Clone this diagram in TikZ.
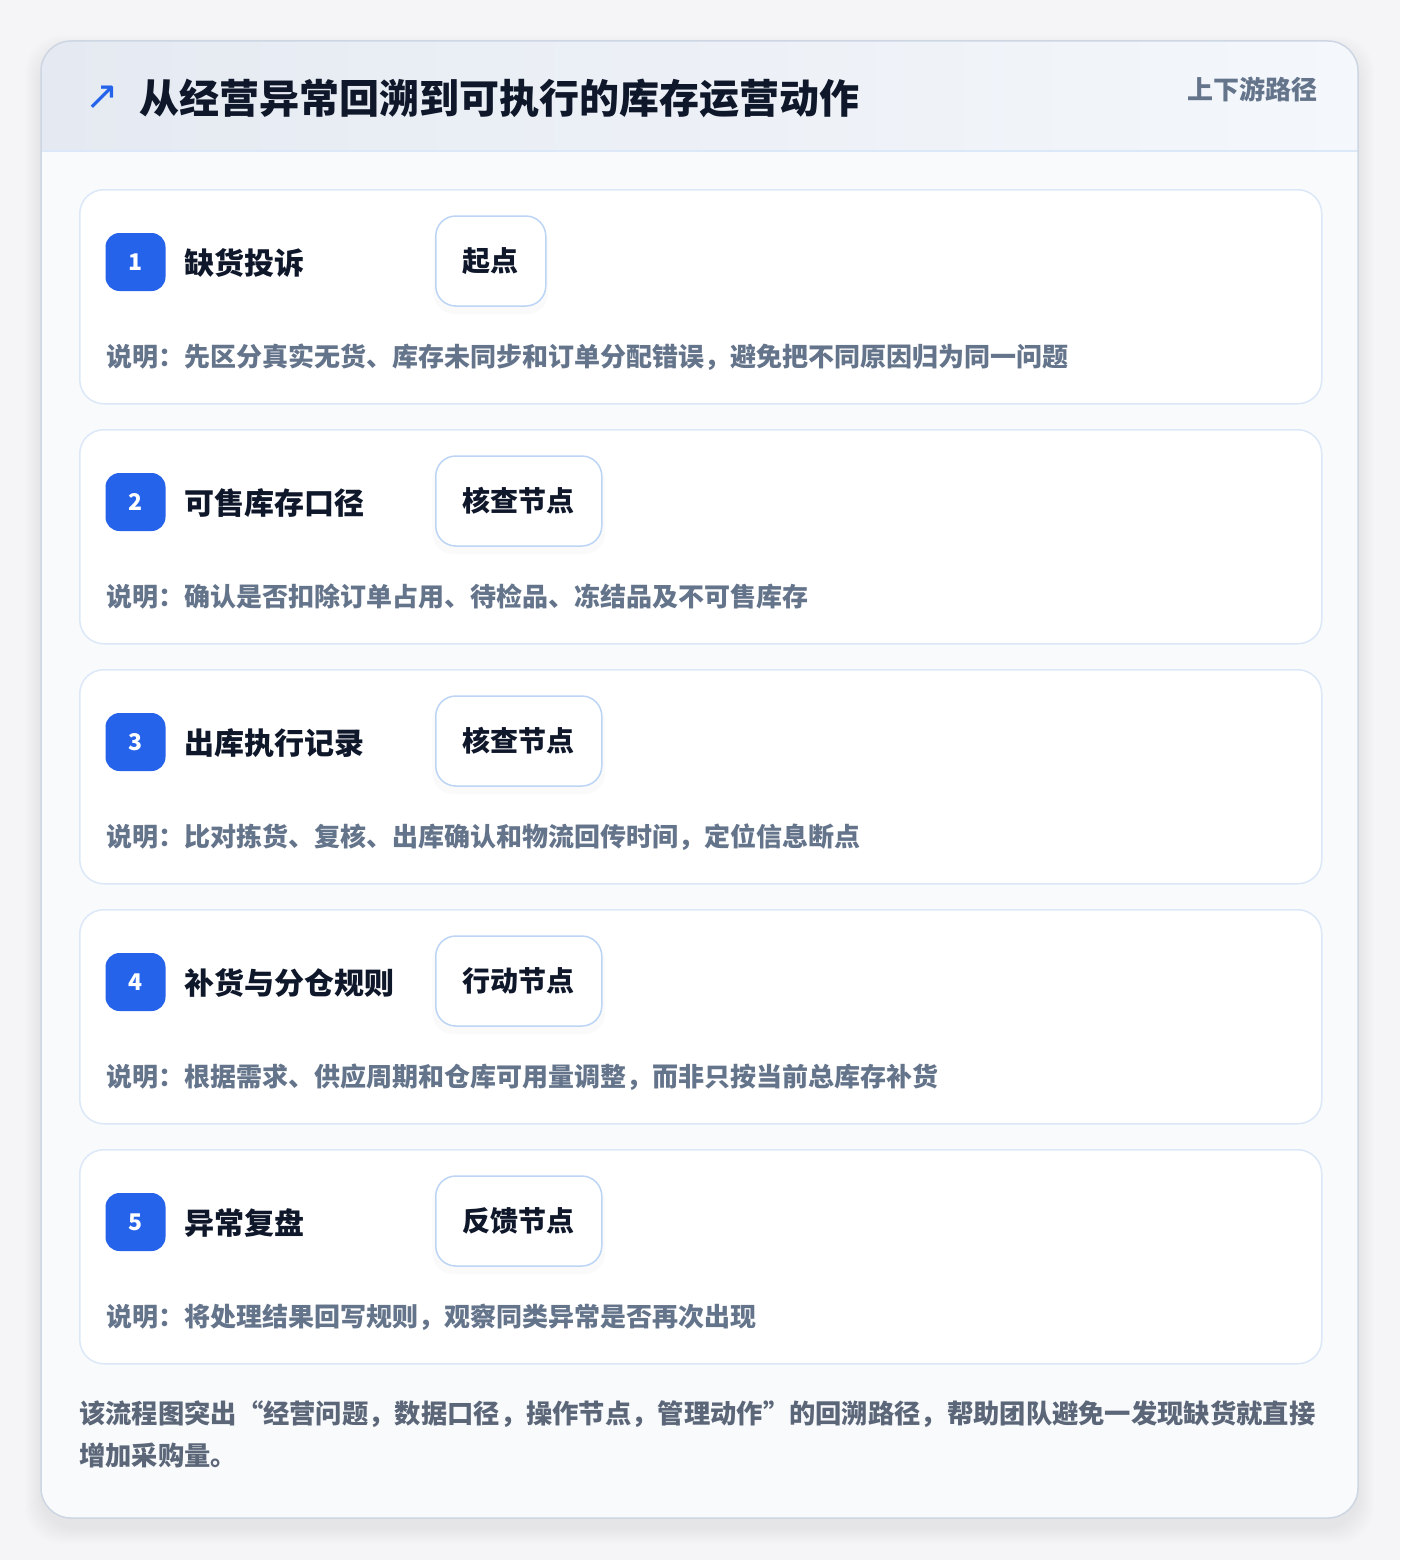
\documentclass[tikz,border=0pt]{standalone}
\usepackage{fontspec}
\setmainfont{Noto Sans CJK SC}
\newfontfamily\symfont{DejaVu Sans}
\usetikzlibrary{positioning,shadows}

\definecolor{pagebg}{HTML}{F5F5F7}
\definecolor{cardbg}{HTML}{F8FAFC}
\definecolor{cardline}{HTML}{CDD6E2}
\definecolor{headl}{HTML}{E5EAF2}
\definecolor{headr}{HTML}{F4F7FB}
\definecolor{stepline}{HTML}{DCE8F7}
\definecolor{tagline}{HTML}{BCD5F5}
\definecolor{accent}{HTML}{2563EB}
\definecolor{ink}{HTML}{0F172A}
\definecolor{muted}{HTML}{64748B}
\definecolor{foot}{HTML}{5B6678}

\begin{document}
\begin{tikzpicture}[x=1pt,y=-1pt,
  stepcard/.style={draw=stepline,line width=1.5pt,fill=white,rounded corners=24pt,
    minimum width=1242pt,minimum height=214pt,anchor=north west,inner sep=0pt},
  badge/.style={fill=accent,rounded corners=14pt,minimum width=60pt,minimum height=58pt,
    inner sep=0pt,text=white,font=\fontsize{23}{23}\selectfont\bfseries},
  steptitle/.style={anchor=west,inner sep=0pt,text=ink,font=\fontsize{30}{30}\selectfont\bfseries},
  tagbox/.style={draw=tagline,line width=1.5pt,fill=white,rounded corners=20pt,
    minimum height=90pt,inner xsep=27pt,inner ysep=0pt,text=ink,
    font=\fontsize{28}{28}\selectfont\bfseries,
    drop shadow={shadow xshift=0pt,shadow yshift=-6pt,opacity=0.035,shadow scale=1.04}},
  stepdesc/.style={anchor=west,inner sep=0pt,text=muted,font=\fontsize{26}{26}\selectfont\bfseries}]

\useasboundingbox[fill=pagebg] (0,0) rectangle (1400,1560);

% soft shadow round the card
\foreach \s in {1,...,16}
  \fill[black,opacity=0.004,rounded corners=36] (41-\s,41-\s+10) rectangle (1358+\s,1518+\s+10);

\path[fill=cardbg,rounded corners=30] (41,41) rectangle (1358,1518);
\begin{scope}
  \clip[rounded corners=30] (41,41) rectangle (1358,1518);
  \shade[left color=headl,right color=headr] (41,41) rectangle (1358,151);
  \draw[stepline,line width=1.5] (41,151) -- (1358,151);
\end{scope}
\draw[cardline,line width=1.5,rounded corners=30] (41,41) rectangle (1358,1518);

% header
\node[text=accent,inner sep=0pt,font=\symfont\fontsize{40}{40}\selectfont] (icon) at (102,98) {↗};
\node[anchor=west,inner sep=0pt,text=ink,font=\fontsize{40}{40}\selectfont\bfseries] (heading) at (139,98) {从经营异常回溯到可执行的库存运营动作};
\node[anchor=east,inner sep=0pt,text=muted,font=\fontsize{26}{26}\selectfont\bfseries] (pathtag) at (1318,89) {上下游路径};

% steps
\foreach \n/\ttl/\tg/\dsc [evaluate=\n as \top using 189+240*(\n-1)] in {
  1/缺货投诉/起点/{说明：先区分真实无货、库存未同步和订单分配错误，避免把不同原因归为同一问题},
  2/可售库存口径/核查节点/{说明：确认是否扣除订单占用、待检品、冻结品及不可售库存},
  3/出库执行记录/核查节点/{说明：比对拣货、复核、出库确认和物流回传时间，定位信息断点},
  4/补货与分仓规则/行动节点/{说明：根据需求、供应周期和仓库可用量调整，而非只按当前总库存补货},
  5/异常复盘/反馈节点/{说明：将处理结果回写规则，观察同类异常是否再次出现}}{
  \node[stepcard] (card\n) at (79,\top) {};
  \node[badge] (badge\n) at ([shift={(56.5,73)}]card\n.north west) {\n};
  \node[steptitle] (title\n) at ([shift={(105,74)}]card\n.north west) {\ttl};
  \node[tagbox,anchor=west] (tag\n) at ([shift={(356,72)}]card\n.north west) {\tg};
  \node[stepdesc] (desc\n) at ([shift={(27,168)}]card\n.north west) {\dsc};
}

% closing note
\node[anchor=north west,inner sep=0pt,text=foot,align=left,
  font=\fontsize{26.3}{42}\selectfont\bfseries] (note) at (79,1400)
  {该流程图突出“经营问题，数据口径，操作节点，管理动作”的回溯路径，帮助团队避免一发现缺货就直接\\增加采购量。};

\end{tikzpicture}
\end{document}
